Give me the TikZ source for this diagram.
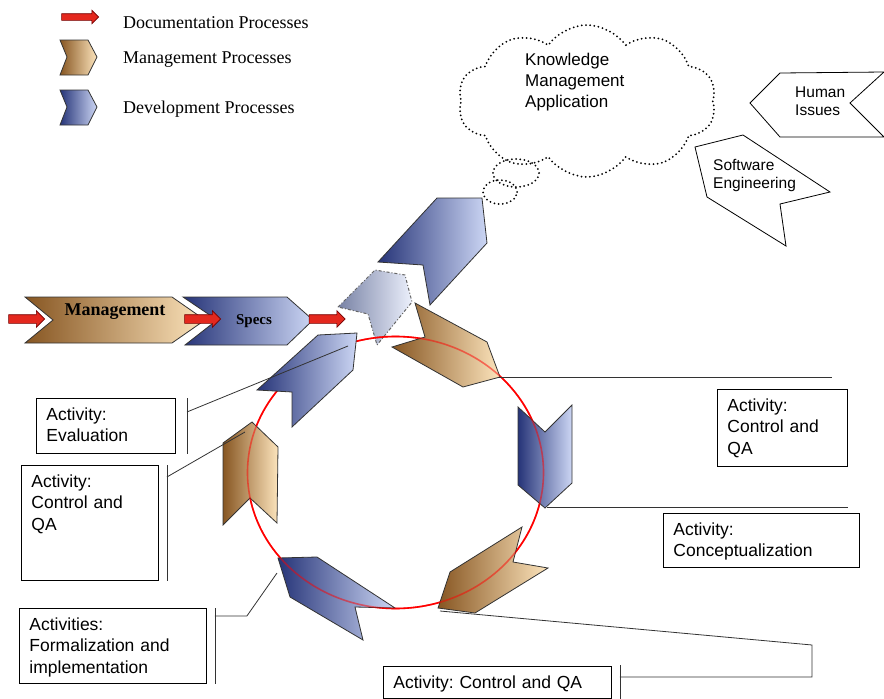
\documentclass[tikz,border=0pt]{standalone}
\usepackage{fontspec}
\setmainfont{Liberation Sans}
\newfontfamily\legendserif{Liberation Serif}
\usetikzlibrary{shapes.arrows,shapes.symbols}
\frenchspacing
\definecolor{tandark}{RGB}{135,86,34}
\definecolor{tanlight}{RGB}{252,228,188}
\definecolor{bluedark}{RGB}{38,52,120}
\definecolor{bluelight}{RGB}{204,214,244}
\definecolor{ghostdark}{RGB}{120,130,165}
\definecolor{ghostlight}{RGB}{236,240,252}
\definecolor{docred}{RGB}{228,40,30}
\tikzset{
  mgmt/.style={draw=black!80,line width=0.8pt,left color=tandark,right color=tanlight},
  devel/.style={draw=black!80,line width=0.8pt,left color=bluedark,right color=bluelight},
  ghost/.style={draw=black!60,line width=1pt,dash pattern=on 3pt off 2pt on 1pt off 2pt,
    left color=ghostdark,right color=ghostlight},
  docarrow/.style={single arrow,draw=red!45!black,fill=docred,line width=0.6pt,inner xsep=0pt,inner ysep=4pt,
    single arrow head extend=4pt,minimum height=36pt,minimum width=0pt},
  legendtext/.style={anchor=base west,inner sep=0pt,font=\legendserif\fontsize{18}{21}\selectfont},
  freetext/.style={anchor=base west,inner sep=0pt,align=left,text width=#1},
  actbox/.style={draw,line width=0.9pt,anchor=north west,align=left,inner xsep=10pt,inner ysep=7pt,
    text height=15pt,font=\fontsize{17.5}{21.5}\selectfont},
  leader/.style={line width=0.8pt,black!80},
  issue/.style={draw,line width=0.8pt,fill=white},
  dots/.style={line width=2pt,line cap=round,dash pattern=on 0pt off 4.2pt},
  ring/.style={line width=1.6pt,red},
}
\begin{document}
\begin{tikzpicture}[x=1pt,y=-1pt]
\useasboundingbox (0,0) rectangle (884,699);

% legend
\node[docarrow,minimum height=37pt,inner ysep=3pt,single arrow head extend=3.5pt] (legarrow) at (78.5,17) {};
\draw[mgmt] (60,40) -- (88,40) -- (97,57) -- (88,75) -- (60,75) -- (67,57) -- cycle;
\draw[devel] (60,90) -- (88,90) -- (97,107) -- (88,125) -- (60,125) -- (67,107) -- cycle;
\node[legendtext] (legdoc) at (123,28) {Documentation Processes};
\node[legendtext] (legmgmt) at (123,63) {Management Processes};
\node[legendtext] (legdevel) at (123,113) {Development Processes};

% knowledge cloud
\node[cloud,cloud puffs=10,cloud puff arc=110,cloud ignores aspect,draw,dots,minimum width=258pt,minimum height=152pt] (kmcloud) at (587,101) {};
\draw[dots] (516,173) ellipse [x radius=23pt,y radius=14pt];
\draw[dots] (500,192) ellipse [x radius=17pt,y radius=12pt];
\node[freetext=130pt,font=\fontsize{17}{21}\selectfont] (kmtext) at (525,65) {Knowledge\\Management\\Application};

% side issues
\draw[issue] (750,103) -- (780,73) -- (884,72) -- (850,103) -- (884,137) -- (780,137) -- cycle;
\node[freetext=60pt,font=\fontsize{15.5}{18}\selectfont] (humantext) at (795,97) {Human\\Issues};
\draw[issue] (695,147) -- (743,135) -- (830,192) -- (780,204) -- (786,246) -- (707,197) -- cycle;
\node[freetext=90pt,font=\fontsize{15.5}{18}\selectfont] (softtext) at (713,170) {Software\\Engineering};

% process flow
\draw[mgmt] (25,297) -- (172,297) -- (205,320) -- (172,343) -- (25,343) -- (53,320) -- cycle;
\node[anchor=base,font=\legendserif\bfseries\fontsize{18}{20}\selectfont] (mgmttext) at (115,315) {Management};
\draw[devel] (183,297) -- (287,297) -- (313,320) -- (287,345) -- (185,345) -- (217,320) -- cycle;
\node[anchor=base,font=\legendserif\bfseries\fontsize{15}{18}\selectfont] (specstext) at (254,324) {Specs};
\foreach \x/\n in {24.5/doca,200.5/docb,325/docc}
  \node[docarrow] (\n) at (\x,319) {};

\draw[devel] (378,262) -- (437,198) -- (482,198) -- (487,243) -- (430,305) -- (423,265) -- cycle;
\draw[ghost] (338,307) -- (375,270) -- (405,275) -- (412,302) -- (377,345) -- (368,314) -- cycle;

% cycle
\draw[ring] (395.5,472.5) ellipse [x radius=148pt,y radius=136pt];
\draw[mgmt] (415,303) -- (487,342) -- (500,377) -- (463,387) -- (392,347) -- (425,337) -- cycle;
\draw[devel] (518,407) -- (545,432) -- (572,405) -- (572,483) -- (545,508) -- (518,485) -- cycle;
\draw[mgmt] (450,572) -- (522,527) -- (513,562) -- (548,568) -- (475,613) -- (438,608) -- cycle;
\draw[devel] (278,558) -- (317,557) -- (395,608) -- (355,607) -- (363,640) -- (290,597) -- cycle;
\draw[mgmt] (223,443) -- (252,422) -- (278,447) -- (277,523) -- (250,498) -- (223,525) -- cycle;
\draw[ring,draw opacity=0.5] (395.5,472.5) ellipse [x radius=148pt,y radius=136pt];
\draw[devel] (257,390) -- (318,335) -- (357,333) -- (353,370) -- (292,427) -- (292,392) -- cycle;

% activities
\node[actbox,text width=119pt,text depth=26pt] (evalbox) at (36,398) {Activity:\\Evaluation};
\node[actbox,text width=117pt,text depth=86pt] (qaleftbox) at (21,465) {Activity:\\Control and\\QA};
\node[actbox,text width=167pt,text depth=46pt] (formbox) at (19,608) {Activities:\\Formalization and\\implementation};
\node[actbox,text width=110pt,text depth=48pt] (qarightbox) at (717,389) {Activity:\\Control and\\QA};
\node[actbox,text width=176pt,text depth=25pt] (conceptbox) at (663,513) {Activity:\\Conceptualization};
\node[actbox,text width=208pt,text depth=3pt] (qabottombox) at (383,666) {Activity: Control and QA};

\coordinate (evaltip) at (348,346);
\coordinate (qalefttip) at (245,432);
\coordinate (formtip) at (277,573);
\coordinate (toptip) at (498,377);
\coordinate (topend) at (832,377);
\coordinate (righttip) at (547,507);
\coordinate (rightend) at (848,507);
\coordinate (bottomtip) at (440,611);

\draw[leader] ([xshift=11pt]evalbox.north east) -- ([xshift=11pt]evalbox.south east);
\draw[leader] ([xshift=11pt,yshift=-14pt]evalbox.north east) -- (evaltip);
\draw[leader] ([xshift=8pt]qaleftbox.north east) -- ([xshift=8pt]qaleftbox.south east);
\draw[leader] ([xshift=8pt,yshift=-12pt]qaleftbox.north east) -- (qalefttip);
\draw[leader] ([xshift=8pt]formbox.north east) -- ([xshift=8pt]formbox.south east);
\draw[leader] ([xshift=8pt,yshift=-8pt]formbox.north east) -- ++(32,0) -- (formtip);
\draw[leader] (toptip) -- (topend);
\draw[leader] (righttip) -- (rightend);
\draw[leader] ([xshift=8pt,yshift=1pt]qabottombox.north east) -- ([xshift=8pt,yshift=-2pt]qabottombox.south east);
\draw[leader] (bottomtip) -- (812,645) -- (812,677) -- ([xshift=8pt,yshift=-11pt]qabottombox.north east);
\end{tikzpicture}
\end{document}
